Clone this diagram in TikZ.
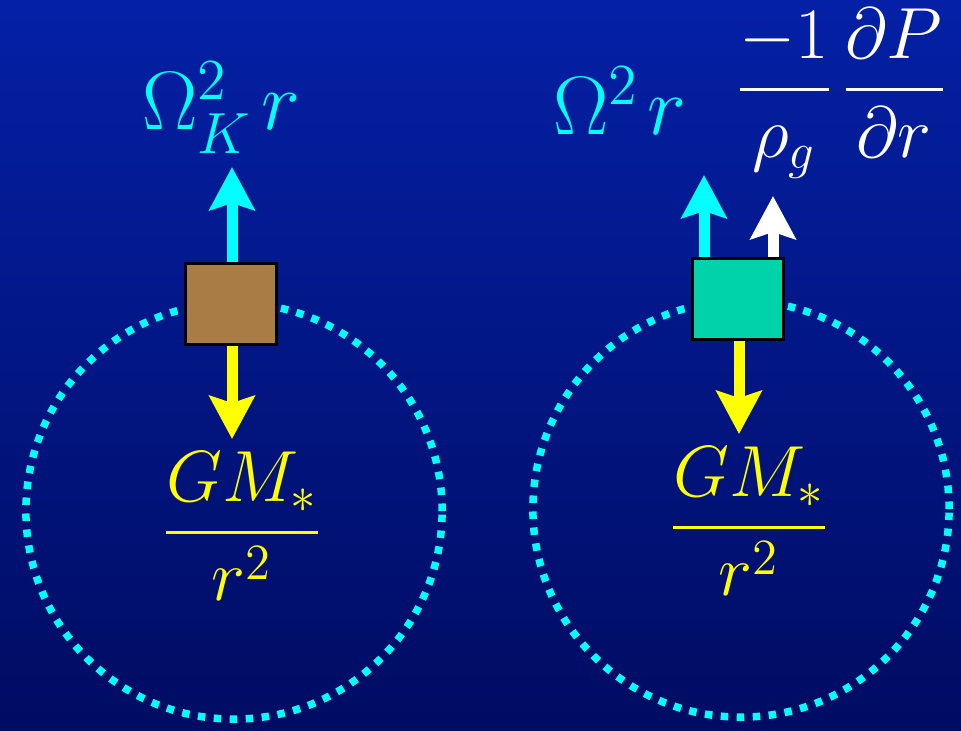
\RequirePackage{fix-cm}
\documentclass[tikz,border=0pt]{standalone}
\usepackage{amsmath}
\usepackage{xcolor}
\usetikzlibrary{arrows.meta, positioning}

\definecolor{bgtop}{RGB}{4,32,166}
\definecolor{bgbottom}{RGB}{0,12,98}
\definecolor{dustbrown}{RGB}{168,124,68}
\definecolor{gasgreen}{RGB}{0,210,170}
\definecolor{orbitcyan}{RGB}{0,255,255}
\definecolor{gravyellow}{RGB}{255,255,0}

\begin{document}
\begin{tikzpicture}[
    x=0.01cm, y=0.01cm,
    orbit/.style={circle, draw=orbitcyan, line width=0.075cm, dash pattern=on 0.075cm off 0.085cm, minimum size=4.16cm, inner sep=0pt},
    parcel/.style={rectangle, draw=black, line width=0.85pt, minimum width=0.91cm, minimum height=0.81cm, inner sep=0pt},
    force/.style={-{Stealth[length=0.43cm, width=0.45cm, inset=0.07cm]}, line width=0.11cm},
    biglabel/.style={anchor=base, inner sep=0pt, font=\fontsize{23.6}{28}\selectfont},
    fraclabel/.style={anchor=base, inner sep=0pt, font=\fontsize{20.6}{24}\selectfont}
]

% Background
\useasboundingbox (0,0) rectangle (961,730);
\fill[top color=bgtop, bottom color=bgbottom] (0,0) rectangle (961,730);

% Left: dust grain on Keplerian orbit
\node[orbit] (orbitL) at (234,219) {};
\node[parcel, fill=dustbrown] (massL) at (231,426) {};
\coordinate (tipKL) at (232,563);
\coordinate (tipGL) at (232,291);

% Right: gas parcel, pressure supported
\node[orbit] (orbitR) at (741,221) {};
\node[parcel, fill=gasgreen] (massR) at (738,431) {};
\coordinate (tipOR) at (704,555);
\coordinate (tipPR) at (773,534);
\coordinate (tipGR) at (739,296);

% Labels
\node[biglabel, text=orbitcyan] (omegaK) at (221,600) {$\Omega_K^2\mkern2mu r$};
\node[biglabel, text=orbitcyan] (omegaR) at (620,595) {$\Omega^2\mkern2mu r$};
\node[fraclabel, text=white] (pressure) at (841,622) {$\dfrac{-1}{\rho_g}\mkern2mu\dfrac{\partial P}{\partial r}$};
\node[fraclabel, text=gravyellow] (gravL) at (242,179) {$\dfrac{GM_*}{r^2}$};
\node[fraclabel, text=gravyellow] (gravR) at (749,184) {$\dfrac{GM_*}{r^2}$};

% Arrows
\draw[force, orbitcyan] (massL.north -| tipKL) -- (tipKL);
\draw[force, gravyellow] (massL.south -| tipGL) -- (tipGL);
\draw[force, orbitcyan] (massR.north -| tipOR) -- (tipOR);
\draw[force, white] (massR.north -| tipPR) -- (tipPR);
\draw[force, gravyellow] (massR.south -| tipGR) -- (tipGR);

\end{tikzpicture}
\end{document}
